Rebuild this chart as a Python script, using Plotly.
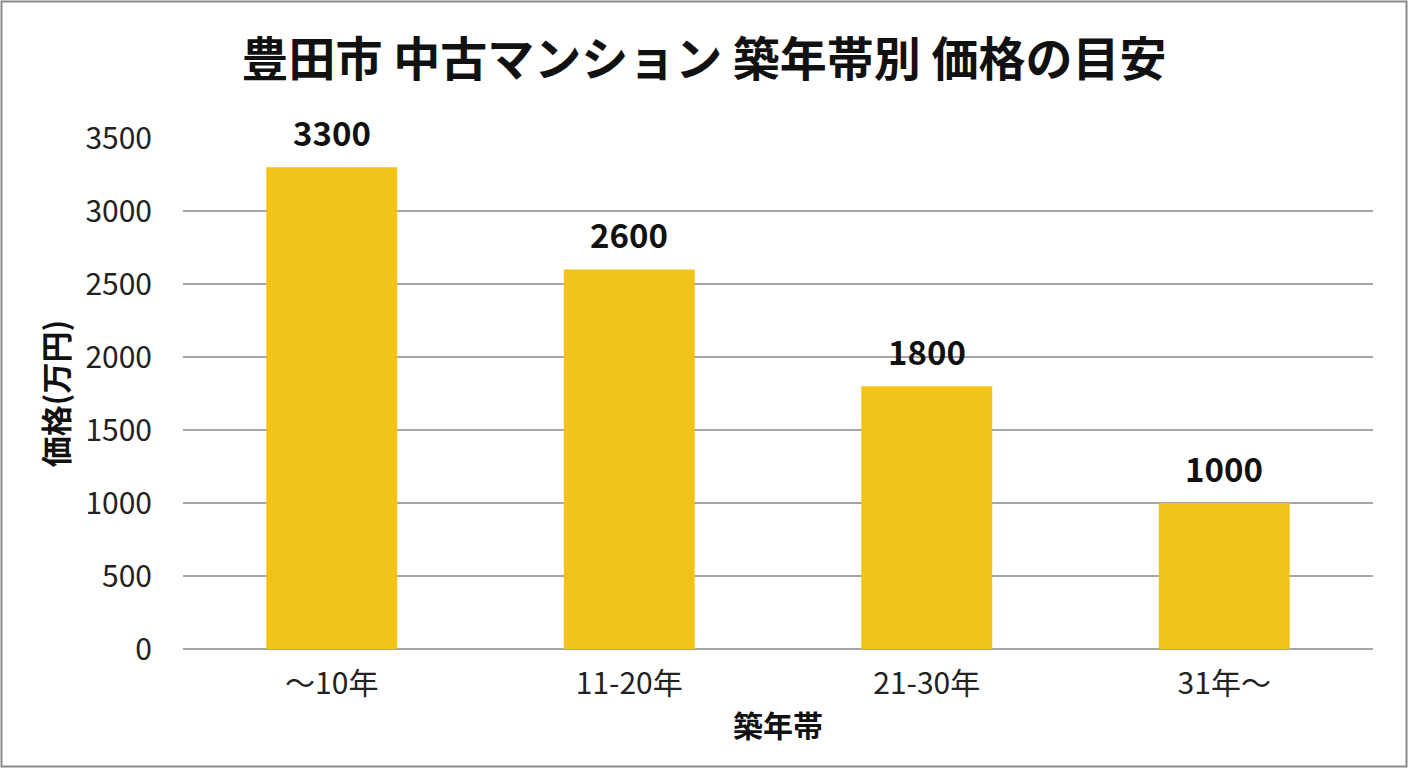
import plotly.graph_objects as go

categories = ["〜10年", "11-20年", "21-30年", "31年〜"]
prices = [3300, 2600, 1800, 1000]
y_ticks = [0, 500, 1000, 1500, 2000, 2500, 3000, 3500]

W, H = 1408, 768
ML, MR, MT, MB = 183, 35, 138, 119
FONT = "Noto Sans CJK JP"

fig = go.Figure()
fig.add_trace(go.Bar(
    x=categories, y=prices,
    marker=dict(color="#F2C419", line=dict(width=0)),
    width=0.44,
))

for c, v in zip(categories, prices):
    fig.add_annotation(x=c, y=v, text=f"<b>{v}</b>", showarrow=False,
                       yanchor="bottom", yshift=9,
                       font=dict(family=FONT, size=33, color="#111111"))

pw = W - ML - MR
ph = H - MT - MB
fig.add_shape(type="rect", xref="paper", yref="paper",
              x0=-(ML - 1.5) / pw, x1=1 + (MR - 1.5) / pw,
              y0=-(MB - 1.5) / ph, y1=1 + (MT - 1.5) / ph,
              line=dict(color="#8a8a8a", width=2), layer="below")

fig.update_layout(
    width=W, height=H,
    margin=dict(l=ML, r=MR, t=MT, b=MB),
    paper_bgcolor="white", plot_bgcolor="white",
    showlegend=False,
    title=dict(text="<b>豊田市 中古マンション 築年帯別 価格の目安</b>",
               x=0.5, xref="container", xanchor="center", y=1 - 60 / H, yanchor="middle",
               font=dict(family=FONT, size=47, color="#111111")),
    font=dict(family=FONT, color="#222222"),
)
fig.update_xaxes(
    title=dict(text="<b>築年帯</b>", font=dict(family=FONT, size=30, color="#111111"), standoff=13),
    tickfont=dict(family=FONT, size=30, color="#222222"),
    showline=False, showgrid=False, ticks="", ticklabelstandoff=14,
)
fig.update_yaxes(
    range=[0, 3500], tickvals=y_ticks,
    title=dict(text="<b>価格(万円)</b>", font=dict(family=FONT, size=31, color="#111111"), standoff=7),
    tickfont=dict(family=FONT, size=30, color="#222222"),
    showgrid=True, gridcolor="#a6a6a6", gridwidth=1.5,
    zeroline=True, zerolinecolor="#a6a6a6", zerolinewidth=1.5,
    showline=False, ticks="", ticklabelstandoff=30,
)

fig.write_html("out.html", config={"displayModeBar": False},
               post_script="document.body.style.margin='0';")
